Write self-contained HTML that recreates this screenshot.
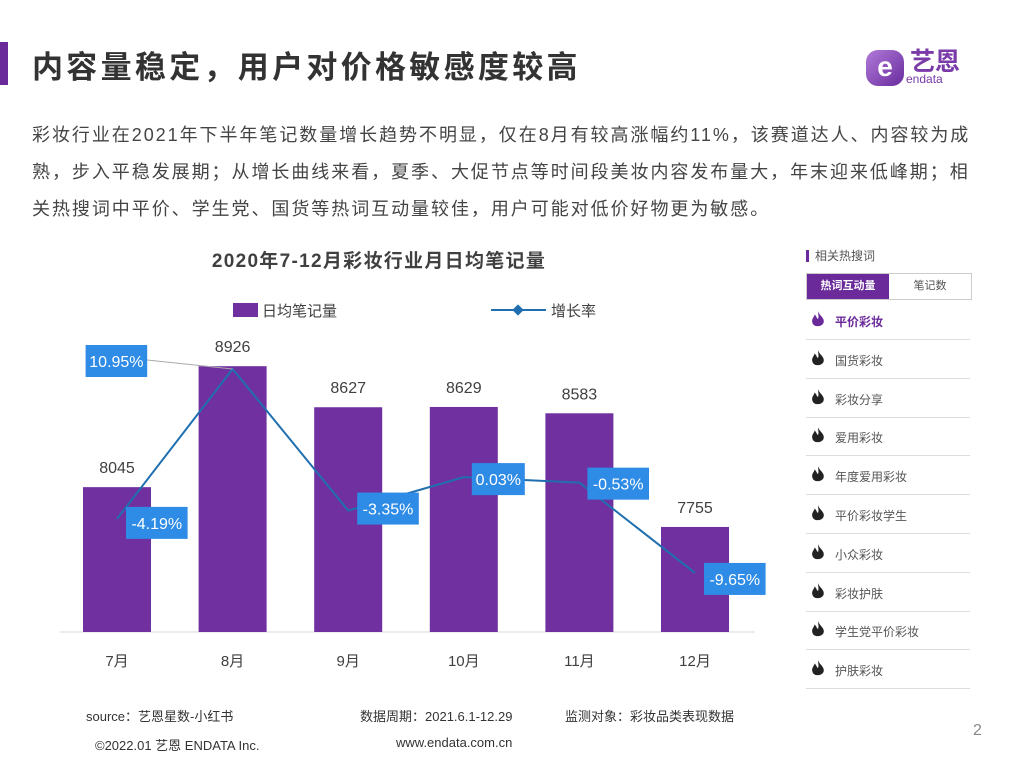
<!DOCTYPE html>
<html><head><meta charset="utf-8"><style>
body{margin:0;width:1024px;height:768px;background:#fff;position:relative;overflow:hidden;font-family:"Liberation Sans","Noto Sans CJK SC",sans-serif;}
.abs{position:absolute;}
.row{position:absolute;left:806px;width:164px;height:38px;border-bottom:1px solid #ddd;font-size:12px;color:#555;}
.row span.t{position:absolute;left:29px;top:12px;}
.row svg{position:absolute;left:5px;top:10px;}
</style></head><body>
<div class="abs" style="left:0;top:42px;width:8px;height:43px;background:#6b2a9a"></div>
<div class="abs" style="left:32px;top:42px;font-size:31px;font-weight:bold;color:#333;letter-spacing:3.3px">内容量稳定，用户对价格敏感度较高</div>
<div class="abs" style="left:866px;top:44px;width:120px;height:46px">
<div style="position:absolute;left:0;top:6px;width:38px;height:36px;border-radius:12px;background:linear-gradient(135deg,#b07ad8,#6a2c9e);color:#fff;font-size:28px;font-weight:bold;text-align:center;line-height:34px">e</div>
<div style="position:absolute;left:44px;top:-2px;font-size:25px;font-weight:bold;color:#7a3aa8">艺恩</div>
<div style="position:absolute;left:40px;top:28px;font-size:12px;color:#7a3aa8">endata</div>
</div>
<div class="abs" style="left:32px;top:117px;width:990px;font-size:18px;line-height:37px;color:#444;letter-spacing:1.95px;white-space:nowrap">彩妆行业在2021年下半年笔记数量增长趋势不明显，仅在8月有较高涨幅约11%，该赛道达人、内容较为成<br>熟，步入平稳发展期；从增长曲线来看，夏季、大促节点等时间段美妆内容发布量大，年末迎来低峰期；相<br>关热搜词中平价、学生党、国货等热词互动量较佳，用户可能对低价好物更为敏感。</div>

<svg class="abs" style="left:0;top:0" width="800" height="700" id="chart">
<text x="379" y="267" text-anchor="middle" font-size="19" font-weight="bold" fill="#404040" letter-spacing="1.3">2020年7-12月彩妆行业月日均笔记量</text>
<rect x="233" y="303" width="25" height="14" fill="#7030a0"/>
<text x="262" y="316" font-size="15" fill="#404040">日均笔记量</text>
<line x1="491" y1="310" x2="546" y2="310" stroke="#1f6fb0" stroke-width="2"/>
<rect x="514" y="306" width="8" height="8" fill="#1f6fb0" transform="rotate(45 518 310)"/>
<text x="551" y="316" font-size="15" fill="#404040">增长率</text>
<line x1="60" y1="632" x2="755" y2="632" stroke="#d9d9d9" stroke-width="1"/>
<g id="marks"></g>
</svg>

<div class="abs" style="left:806px;top:250px;font-size:12px;color:#555;border-left:3px solid #6b2a9a;padding-left:6px;line-height:12px">相关热搜词</div>
<div class="abs" style="left:806px;top:273px;width:164px;height:25px;border:1px solid #ccc;font-size:11px">
<div style="position:absolute;left:0;top:0;width:82px;height:25px;background:#6b2a9a;color:#fff;text-align:center;line-height:25px;font-weight:bold">热词互动量</div>
<div style="position:absolute;left:82px;top:0;width:82px;height:25px;color:#555;text-align:center;line-height:25px">笔记数</div>
</div>
<div id="list"></div>

<div class="abs" style="left:86px;top:706px;font-size:13px;color:#333">source：艺恩星数-小红书</div>
<div class="abs" style="left:360px;top:706px;font-size:13px;color:#333">数据周期：2021.6.1-12.29</div>
<div class="abs" style="left:565px;top:706px;font-size:13px;color:#333">监测对象：彩妆品类表现数据</div>
<div class="abs" style="left:95px;top:735px;font-size:13px;color:#333">©2022.01 艺恩 ENDATA Inc.</div>
<div class="abs" style="left:396px;top:735px;font-size:13px;color:#333">www.endata.com.cn</div>
<div class="abs" style="left:973px;top:722px;font-size:16px;color:#888">2</div>

<script>
const categories=["7月","8月","9月","10月","11月","12月"];
const noteCounts=[8045,8926,8627,8629,8583,7755];
const growthRates=[-4.19,10.95,-3.35,0.03,-0.53,-9.65];
const growthLabels=["-4.19%","10.95%","-3.35%","0.03%","-0.53%","-9.65%"];
const keywords=["平价彩妆","国货彩妆","彩妆分享","爱用彩妆","年度爱用彩妆","平价彩妆学生","小众彩妆","彩妆护肤","学生党平价彩妆","护肤彩妆"];

const NS="http://www.w3.org/2000/svg";
const g=document.getElementById('marks');
const xC=i=>117+i*115.6;
const yBar=v=>632-(v-6990)*0.1373;
const yLine=p=>477.4-p*9.9;
function mk(t,a){const e=document.createElementNS(NS,t);for(const k in a)e.setAttribute(k,a[k]);g.appendChild(e);return e;}
noteCounts.forEach((v,i)=>{
 const r=mk('rect',{x:xC(i)-34,y:yBar(v),width:68,height:632-yBar(v),fill:'#7030a0'});
 
 
 const t=mk('text',{x:xC(i),y:yBar(v)-14,'text-anchor':'middle','font-size':'16',fill:'#404040'});
 t.textContent=v;
 
 
 const c=mk('text',{x:xC(i),y:666,'text-anchor':'middle','font-size':'15',fill:'#404040'});
 c.textContent=categories[i];
 
 
});
const pts=growthRates.map((p,i)=>[xC(i),yLine(p)]);
const pl=mk('polyline',{points:pts.map(p=>p.join(',')).join(' '),fill:'none',stroke:'#1f6fb0','stroke-width':2});


const offs=[[9,-12],[-147,-24],[9,-18],[8,-14],[8,-15],[9,-10]];
growthRates.forEach((p,i)=>{
 const [x,y]=pts[i];const bx=x+offs[i][0],by=y+offs[i][1],w=growthLabels[i].length*8.6+10;
 if(i===1){const l=mk('line',{x1:bx+w,y1:by+15,x2:x,y2:y,stroke:'#aaa','stroke-width':1});}
 const r=mk('rect',{x:bx,y:by,width:w,height:32,fill:'#2e8be6'});
 
 
 const t=mk('text',{x:bx+w/2,y:by+22,'text-anchor':'middle','font-size':'16',fill:'#fff'});
 t.textContent=growthLabels[i];
 
 
});
const list=document.getElementById('list');
keywords.forEach((k,i)=>{
 const d=document.createElement('div');
 d.className='row';
 d.style.top=(301+i*38.8)+'px';
 
 
 const col=i===0?'#6b2a9a':'#222';
 d.innerHTML='<svg width="14" height="17" viewBox="0 0 12 15"><path d="M6 0C7 4 12 6 11 10C10 14 2 15 1 10C0 7 3 5 3 3C5 5 5 7 6 7C7 5 6 3 6 0Z" fill="'+col+'"/></svg><span class="t" style="'+(i===0?'color:#6b2a9a;font-weight:bold':'')+'">'+k+'</span>';
 list.appendChild(d);
});
</script>
</body></html>
